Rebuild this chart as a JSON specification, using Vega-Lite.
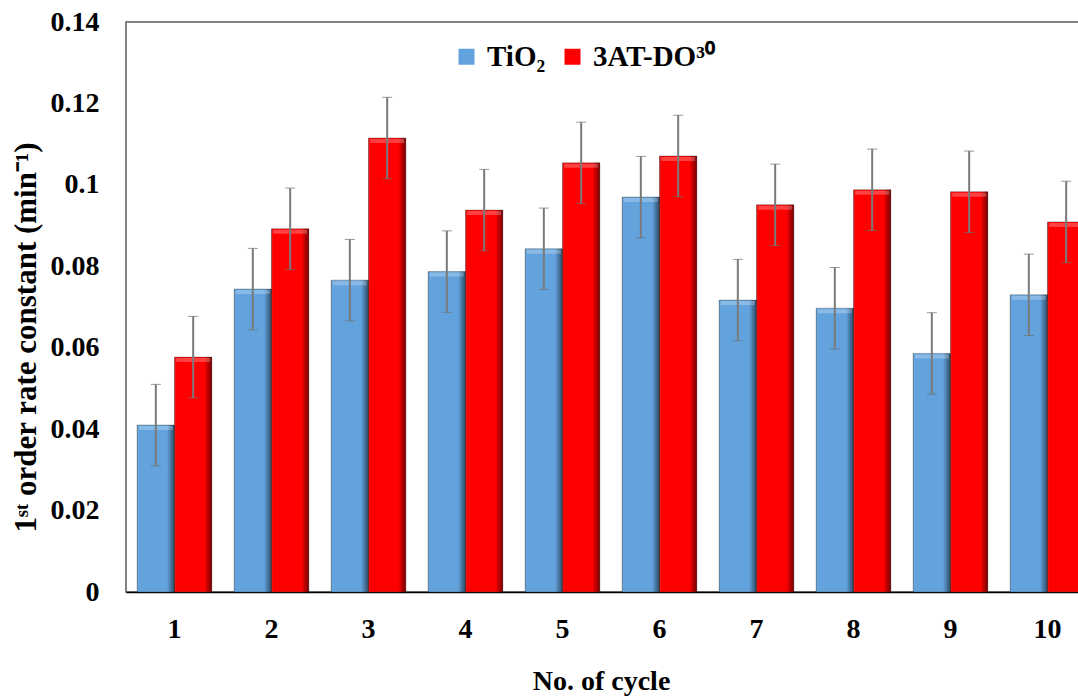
{
  "$schema": "https://vega.github.io/schema/vega-lite/v6.json",
  "autosize": {"type": "none"},
  "padding": {"left": 126, "top": 22, "right": 10, "bottom": 110},
  "width": 970,
  "height": 570,
  "config": {
    "font": "Liberation Serif",
    "view": {"stroke": "#595959", "strokeWidth": 1.5},
    "axis": {"labelFont": "Liberation Serif, Times New Roman, serif", "titleFont": "Liberation Serif, Times New Roman, serif", "labelFontWeight": "bold", "titleFontWeight": "bold", "labelColor": "#000", "titleColor": "#000", "grid": false, "ticks": false}
  },
  "data": {
    "values": [
      {"cycle": "1", "series": "TiO₂", "rate": 0.0410, "err": 0.01},
      {"cycle": "1", "series": "3AT-DO³⁰", "rate": 0.0577, "err": 0.01},
      {"cycle": "2", "series": "TiO₂", "rate": 0.0744, "err": 0.01},
      {"cycle": "2", "series": "3AT-DO³⁰", "rate": 0.0892, "err": 0.01},
      {"cycle": "3", "series": "TiO₂", "rate": 0.0766, "err": 0.01},
      {"cycle": "3", "series": "3AT-DO³⁰", "rate": 0.1115, "err": 0.01},
      {"cycle": "4", "series": "TiO₂", "rate": 0.0787, "err": 0.01},
      {"cycle": "4", "series": "3AT-DO³⁰", "rate": 0.0938, "err": 0.01},
      {"cycle": "5", "series": "TiO₂", "rate": 0.0843, "err": 0.01},
      {"cycle": "5", "series": "3AT-DO³⁰", "rate": 0.1054, "err": 0.01},
      {"cycle": "6", "series": "TiO₂", "rate": 0.0970, "err": 0.01},
      {"cycle": "6", "series": "3AT-DO³⁰", "rate": 0.1071, "err": 0.01},
      {"cycle": "7", "series": "TiO₂", "rate": 0.0717, "err": 0.01},
      {"cycle": "7", "series": "3AT-DO³⁰", "rate": 0.0951, "err": 0.01},
      {"cycle": "8", "series": "TiO₂", "rate": 0.0697, "err": 0.01},
      {"cycle": "8", "series": "3AT-DO³⁰", "rate": 0.0988, "err": 0.01},
      {"cycle": "9", "series": "TiO₂", "rate": 0.0586, "err": 0.01},
      {"cycle": "9", "series": "3AT-DO³⁰", "rate": 0.0983, "err": 0.01},
      {"cycle": "10", "series": "TiO₂", "rate": 0.0730, "err": 0.01},
      {"cycle": "10", "series": "3AT-DO³⁰", "rate": 0.0909, "err": 0.01}
    ]
  },
  "encoding": {
    "x": {
      "field": "cycle", "type": "ordinal", "sort": ["1","2","3","4","5","6","7","8","9","10"],
      "scale": {"paddingInner": 0.23, "paddingOuter": 0.115},
      "axis": {"title": "No. of cycle", "labelAngle": 0, "labelFontSize": 28, "labelPadding": 23, "titleFontSize": 28, "titlePadding": 24, "titleX": 475, "domainColor": "#000", "domainWidth": 1.5}
    },
    "xOffset": {"field": "series", "type": "nominal", "sort": ["TiO₂", "3AT-DO³⁰"]},
    "y": {
      "field": "rate", "type": "quantitative",
      "scale": {"domain": [0, 0.14], "nice": false, "zero": true},
      "axis": {"title": "1ˢᵗ order rate constant (min⁻¹)", "titleY": 315, "values": [0, 0.02, 0.04, 0.06, 0.08, 0.1, 0.12, 0.14], "format": ".2~f", "labelFontSize": 28, "labelPadding": 27, "titleFontSize": 31, "titlePadding": 8, "domain": false}
    }
  },
  "layer": [
    {
      "mark": {"type": "bar", "stroke": "#3a3a3a", "strokeOpacity": 0.35, "strokeWidth": 1},
      "encoding": {
        "color": {
          "field": "series", "type": "nominal", "sort": ["TiO₂", "3AT-DO³⁰"],
          "scale": {"domain": ["TiO₂", "3AT-DO³⁰"], "range": ["#62a3de", "#ff0000"]},
          "legend": {"title": null, "orient": "none", "direction": "horizontal", "legendX": 326, "legendY": 20, "symbolType": "square", "symbolSize": 256, "symbolStrokeWidth": 0, "labelFontSize": 29, "labelFont": "Liberation Serif, Times New Roman, serif", "labelFontWeight": "bold", "labelColor": "#000", "columnPadding": 12, "labelOffset": 6}
        }
      }
    },
    {
      "mark": {"type": "bar", "fill": {"gradient": "linear", "x1": 0, "y1": 0, "x2": 1, "y2": 0, "stops": [{"offset": 0, "color": "rgba(0,0,0,0.25)"}, {"offset": 0.05, "color": "rgba(255,255,255,0)"}, {"offset": 0.8, "color": "rgba(0,0,0,0)"}, {"offset": 1, "color": "rgba(0,0,0,0.55)"}]}},
      "encoding": {}
    },
    {
      "mark": {"type": "tick", "color": "#ffffff", "opacity": 0.25, "thickness": 4, "yOffset": 3, "size": 34},
      "encoding": {}
    },
    {
      "mark": {"type": "errorbar", "ticks": {"size": 10, "color": "#6d6d6d", "strokeWidth": 2}, "rule": {"color": "#7a7a7a", "strokeWidth": 2}},
      "encoding": {
        "yError": {"field": "err"}
      }
    }
  ]
}
